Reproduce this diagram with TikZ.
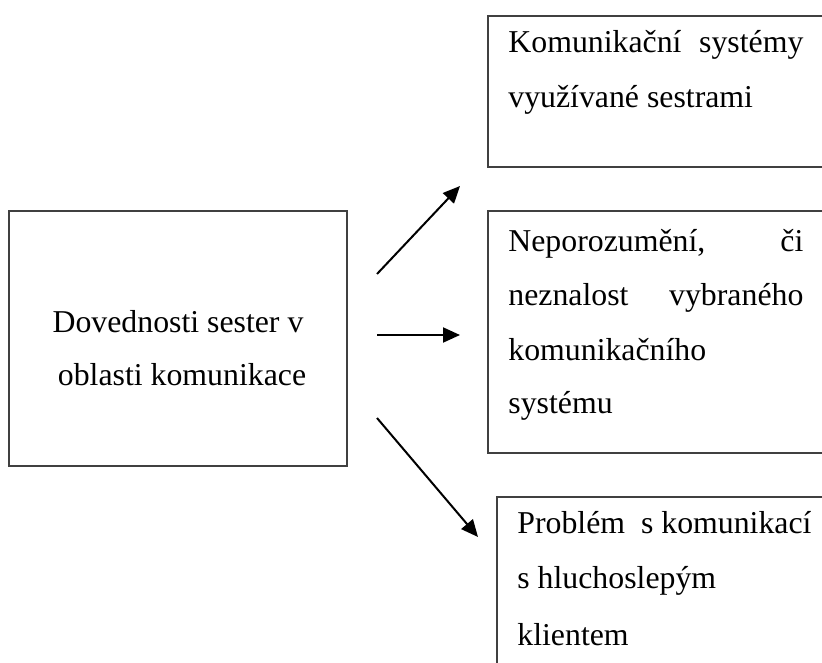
\documentclass[tikz,border=0pt]{standalone}
\usepackage{fontspec}
\setmainfont{Liberation Serif}
\usetikzlibrary{arrows.meta}
\begin{document}
\begin{tikzpicture}[x=0.5pt,y=-0.5pt,
  box/.style={draw=black!75,line width=0.6pt,rectangle,inner sep=0pt,anchor=center},
  txt/.style={inner sep=0pt,anchor=base west,font=\fontsize{15.9}{27}\selectfont},
  ctxt/.style={inner sep=0pt,anchor=base,font=\fontsize{15.9}{27}\selectfont},
  arr/.style={line width=1pt,-{Triangle[length=8.5pt,width=7.5pt]}}]
\useasboundingbox (0,0) rectangle (822,662);
\clip (0,0) rectangle (822,662);
% boxes
\node[box,minimum width=169pt,minimum height=127.5pt] (src) at (178,338.5) {};
\node[box,minimum width=181pt,minimum height=75.5pt] (b1) at (669,91.5) {};
\node[box,minimum width=181pt,minimum height=121pt] (b2) at (669,332) {};
\node[box,minimum width=176.5pt,minimum height=111.5pt] (b3) at (673.5,608.5) {};
% source text
\node[ctxt] (s1) at (178,332) {Dovednosti sester v};
\node[ctxt] (s2) at (182,385) {oblasti komunikace};
% box 1 text
\node[txt] (t11) at (508,53) {\makebox[147.5pt][s]{Komunikační\hfill systémy}};
\node[txt] (t12) at (508,108) {využívané sestrami};
% box 2 text
\node[txt] (t21) at (508,251) {\makebox[147.5pt][s]{Neporozumění,\hfill či}};
\node[txt] (t22) at (508,305) {\makebox[147.5pt][s]{neznalost\hfill vybraného}};
\node[txt] (t23) at (508,360) {komunikačního};
\node[txt] (t24) at (508,413) {systému};
% box 3 text
\node[txt] (t31) at (517,533) {Problém\ \ s komunikací};
\node[txt] (t32) at (517,588) {s hluchoslepým};
\node[txt] (t33) at (517,645) {klientem};
% arrow ends
\coordinate (a1s) at (377,274);
\coordinate (a1e) at (460,186);
\coordinate (a2s) at (377,335);
\coordinate (a2e) at (460,335);
\coordinate (a3s) at (377,418);
\coordinate (a3e) at (478,537);
\draw[arr] (a1s) -- (a1e);
\draw[arr] (a2s) -- (a2e);
\draw[arr] (a3s) -- (a3e);
\end{tikzpicture}
\end{document}
